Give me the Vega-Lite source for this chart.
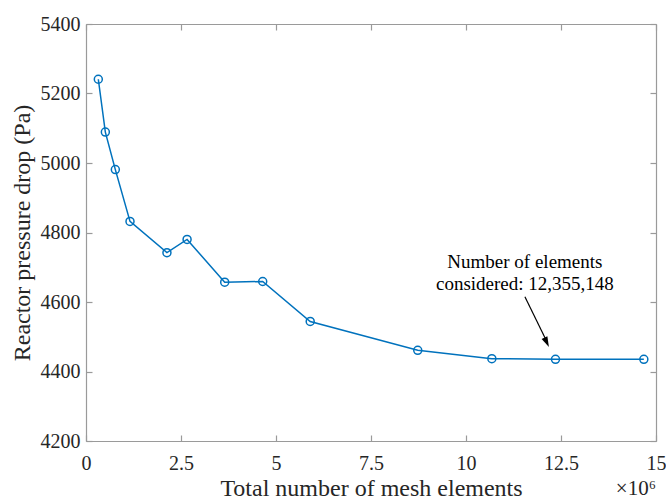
{
  "$schema": "https://vega.github.io/schema/vega-lite/v6.json",
  "width": 570,
  "height": 417,
  "autosize": {"type": "none"},
  "padding": {"left": 86, "top": 24, "right": 10, "bottom": 61},
  "background": "white",
  "config": {
    "font": "Liberation Serif",
    "view": {"stroke": null},
    "axis": {
      "domainColor": "#9a9a9a",
      "tickColor": "#9a9a9a",
      "domainWidth": 1.2,
      "tickWidth": 1.2,
      "grid": false,
      "labelColor": "#262626",
      "titleColor": "#262626",
      "labelFont": "Liberation Serif",
      "titleFont": "Liberation Serif",
      "labelFontSize": 20,
      "titleFontSize": 24,
      "titleFontWeight": "normal",
      "labelFlush": false,
      "tickSize": -6
    }
  },
  "datasets": {
    "mesh": [
      {"elements": 0.324, "dp": 5241},
      {"elements": 0.509, "dp": 5089},
      {"elements": 0.772, "dp": 4981},
      {"elements": 1.158, "dp": 4832},
      {"elements": 2.13, "dp": 4742},
      {"elements": 2.66, "dp": 4780},
      {"elements": 3.65, "dp": 4657},
      {"elements": 4.65, "dp": 4659},
      {"elements": 5.9, "dp": 4544},
      {"elements": 8.73, "dp": 4461},
      {"elements": 10.68, "dp": 4437},
      {"elements": 12.355, "dp": 4435},
      {"elements": 14.68, "dp": 4435}
    ],
    "arrow": [
      {"x1": 11.55, "y1": 4615, "x2": 12.12, "y2": 4488}
    ],
    "head": [
      {"x": 12.124, "y": 4484}
    ],
    "notes": [
      {"x": 11.55, "y": 4716, "label": "Number of elements"},
      {"x": 11.55, "y": 4652, "label": "considered: 12,355,148"}
    ],
    "exponent": [
      {"x": 15, "y": 4062, "label": "×10⁶"}
    ]
  },
  "layer": [
    {
      "data": {"name": "mesh"},
      "mark": {"type": "line", "color": "#0072BD", "strokeWidth": 1.5},
      "encoding": {
        "x": {
          "field": "elements", "type": "quantitative",
          "scale": {"domain": [0, 15], "nice": false, "zero": false},
          "axis": {
            "orient": "bottom",
            "values": [0, 2.5, 5, 7.5, 10, 12.5, 15],
            "format": ".3~g",
            "labelFont": "Liberation Serif",
            "labelFontSize": 20,
            "labelPadding": 18,
            "labelFlush": false,
            "labelFontWeight": "normal",
            "title": "Total number of mesh elements",
            "titlePadding": 3,
            "encode": {"labels": {"update": {"font": {"value": "Liberation Serif"}}}}
          }
        },
        "y": {
          "field": "dp", "type": "quantitative",
          "scale": {"domain": [4200, 5400], "nice": false, "zero": false},
          "axis": {
            "orient": "left",
            "values": [4200, 4400, 4600, 4800, 5000, 5200, 5400],
            "format": "d",
            "labelFont": "Liberation Serif",
            "labelFontSize": 20,
            "labelPadding": 12,
            "labelFontWeight": "normal",
            "title": "Reactor pressure drop (Pa)",
            "titlePadding": 6,
            "encode": {"labels": {"update": {"font": {"value": "Liberation Serif"}}}}
          }
        }
      }
    },
    {
      "data": {"name": "mesh"},
      "mark": {"type": "point", "shape": "circle", "filled": false, "color": "#0072BD", "strokeWidth": 1.5, "size": 64, "opacity": 1},
      "encoding": {
        "x": {"field": "elements", "type": "quantitative", "axis": {"orient": "top", "values": [0, 2.5, 5, 7.5, 10, 12.5, 15], "labels": false, "title": null}},
        "y": {"field": "dp", "type": "quantitative", "axis": {"orient": "right", "values": [4200, 4400, 4600, 4800, 5000, 5200, 5400], "labels": false, "title": null}}
      }
    },
    {
      "data": {"name": "arrow"},
      "mark": {"type": "rule", "color": "black", "strokeWidth": 1.2},
      "encoding": {
        "x": {"field": "x1", "type": "quantitative", "axis": null},
        "y": {"field": "y1", "type": "quantitative", "axis": null},
        "x2": {"field": "x2"},
        "y2": {"field": "y2"}
      }
    },
    {
      "data": {"name": "head"},
      "mark": {"type": "point", "shape": "M-0.6,-1L0,1L0.6,-1Z", "filled": true, "color": "black", "size": 110, "angle": -25, "opacity": 1},
      "encoding": {
        "x": {"field": "x", "type": "quantitative", "axis": null},
        "y": {"field": "y", "type": "quantitative", "axis": null}
      }
    },
    {
      "data": {"name": "notes"},
      "mark": {"type": "text", "font": "Liberation Serif", "fontSize": 19, "color": "#000000", "align": "center", "baseline": "middle"},
      "encoding": {
        "x": {"field": "x", "type": "quantitative", "axis": null},
        "y": {"field": "y", "type": "quantitative", "axis": null},
        "text": {"field": "label"}
      }
    },
    {
      "data": {"name": "exponent"},
      "mark": {"type": "text", "font": "Liberation Serif", "fontSize": 21, "color": "#262626", "align": "right", "baseline": "middle"},
      "encoding": {
        "x": {"field": "x", "type": "quantitative", "axis": null},
        "y": {"field": "y", "type": "quantitative", "axis": null},
        "text": {"field": "label"}
      }
    }
  ],
  "resolve": {"axis": {"x": "independent", "y": "independent"}}
}
